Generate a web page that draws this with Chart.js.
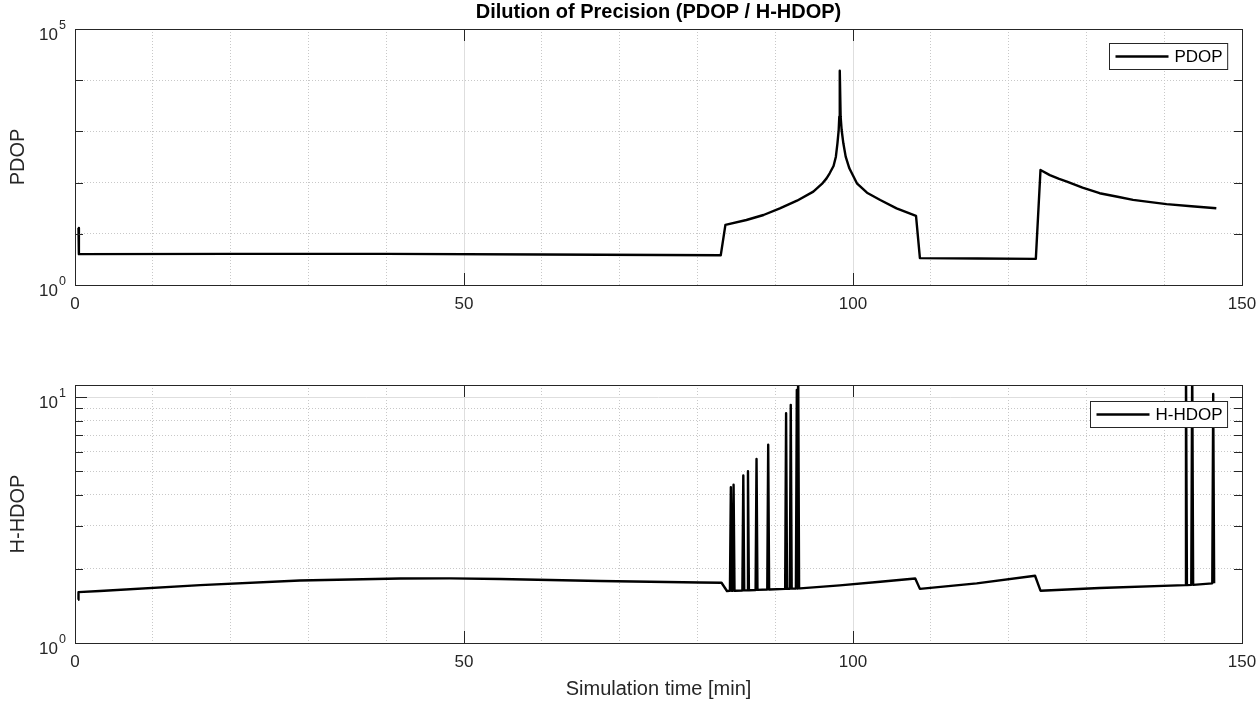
<!DOCTYPE html>
<html>
<head>
<meta charset="utf-8">
<script src="https://cdn.jsdelivr.net/npm/chart.js@4"></script>
<style>
html,body{margin:0;padding:0;background:#fff;}
#wrap{position:relative;width:1260px;height:701px;background:#fff;}
canvas{position:absolute;left:0;top:0;}
</style>
</head>
<body>
<div id="wrap">
<canvas id="top" width="1260" height="701"></canvas>
<canvas id="bottom" width="1260" height="701"></canvas>
</div>
<script>
// ---------------- data ----------------
const chartTitle = 'Dilution of Precision (PDOP / H-HDOP)';
const xAxisTitle = 'Simulation time [min]';
const xLabelTicks = [0, 50, 100, 150];
const xGridTicks = [0,10,20,30,40,50,60,70,80,90,100,110,120,130,140,150];

const pdopTicks = [1, 10, 100, 1000, 10000, 100000];
const pdopLabelTicks = [1, 100000];
const pdopLabelExp = ['0', '5'];

const hdopTicks = [1, 2, 3, 4, 5, 6, 7, 8, 9, 10];
const hdopLabelTicks = [1, 10];
const hdopLabelExp = ['0', '1'];

const pdopTime = [0.45, 0.5, 20, 40, 60, 83.0,
  83.6, 86.3, 88.5, 90.6, 92.8, 94.9, 96.0, 96.6, 97.0, 97.5, 97.8, 98.0, 98.16, 98.24, 98.3,
  98.41, 98.54, 98.76, 99.06, 99.53, 100.5, 101.8, 103.5, 105.6, 108.1,
  108.6, 116, 123.5,
  124.1, 125.3, 126.5, 127.5, 129.5, 131.7, 134.0, 136.0, 138.0, 140.3, 143.5, 146.7];
const pdopValue = [13, 4.0, 4.05, 4.05, 3.95, 3.8,
  14.9, 18.6, 23.3, 31.4, 44.3, 66.5, 94, 121, 152, 211, 321, 585, 1064, 1940, 15350,
  1940, 1064, 585, 321, 190, 97, 63.5, 45.7, 31.4, 22.3,
  3.35, 3.3, 3.24,
  176, 140, 118, 105, 80, 62, 53, 46, 42, 38, 34.5, 31.5];

const hdopTime = [0.4, 0.45, 3.2, 16.1, 28.9, 41.8, 48.2, 54.6, 67.5, 80.3, 83.1, 83.8,
  84.18, 84.3, 84.42, 84.53, 84.65, 84.77, 85.78, 85.9, 86.02, 86.38, 86.5, 86.62, 87.48, 87.6, 87.72,
  88.98, 89.1, 89.22, 91.28, 91.4, 91.52, 91.88, 92.0, 92.12, 92.66, 92.78, 92.86, 92.95, 93.07,
  93.2, 98.3, 103.5, 108.0, 108.6, 115.9, 123.4, 124.1, 131.7, 142.68, 142.8, 142.92,
  143.48, 143.6, 143.72, 146.18, 146.3, 146.42, 146.5];
const hdopValue = [1.50, 1.61, 1.627, 1.72, 1.795, 1.83, 1.832, 1.82, 1.786, 1.762, 1.758, 1.627,
  1.629, 4.3, 1.63, 1.631, 4.4, 1.631, 1.636, 4.8, 1.637, 1.639, 5.0, 1.639, 1.643, 5.6, 1.644,
  1.65, 6.4, 1.651, 1.66, 8.6, 1.661, 1.663, 9.3, 1.664, 1.667, 10.7, 1.667, 14, 1.668,
  1.668, 1.715, 1.775, 1.83, 1.66, 1.748, 1.877, 1.632, 1.674, 1.72, 14, 1.72,
  1.723, 14, 1.724, 1.748, 10.3, 1.75, 1.75];

// ---------------- styling ----------------
const FONT = '"Liberation Sans", Arial, Helvetica, sans-serif';
const AX = '#262626';
const MAJOR_GRID = '#dedede';
const MINOR_GRID = '#c8c8c8';

const matlabAxes = {
  id: 'matlabAxes',
  afterDatasetsDraw(chart, args, o) {
    const ctx = chart.ctx, a = chart.chartArea;
    const xs = chart.scales.x, ys = chart.scales.y;
    ctx.save();
    ctx.strokeStyle = AX;
    ctx.lineWidth = 1;
    ctx.beginPath();
    xs.ticks.forEach(t => {
      if (!xLabelTicks.includes(t.value)) return;
      const px = Math.round(xs.getPixelForValue(t.value)) + 0.5;
      ctx.moveTo(px, a.bottom); ctx.lineTo(px, a.bottom - 12);
      ctx.moveTo(px, a.top); ctx.lineTo(px, a.top + 12);
    });
    ys.ticks.forEach(t => {
      const len = o.yMajor.includes(t.value) ? 12 : 8;
      const py = Math.round(ys.getPixelForValue(t.value)) + 0.5;
      ctx.moveTo(a.left, py); ctx.lineTo(a.left + len, py);
      ctx.moveTo(a.right, py); ctx.lineTo(a.right - len, py);
    });
    ctx.stroke();
    ctx.strokeRect(Math.round(a.left) + 0.5, Math.round(a.top) + 0.5,
      Math.round(a.right - a.left), Math.round(a.bottom - a.top));

    // legend box (inside, north-east)
    ctx.font = '17px ' + FONT;
    const tw = ctx.measureText(o.legend).width;
    const bw = 6 + 53 + 6 + tw + 5, bh = 26;
    const bx = Math.round(a.right - 15 - bw) + 0.5, by = Math.round(a.top + o.legendTop) + 0.5;
    ctx.fillStyle = '#fff';
    ctx.fillRect(bx, by, bw, bh);
    ctx.strokeStyle = AX;
    ctx.strokeRect(bx, by, bw, bh);
    ctx.beginPath();
    ctx.strokeStyle = '#000';
    ctx.lineWidth = 2.4;
    ctx.moveTo(bx + 6, by + bh / 2); ctx.lineTo(bx + 59, by + bh / 2);
    ctx.stroke();
    ctx.fillStyle = '#000';
    ctx.textAlign = 'left';
    ctx.textBaseline = 'middle';
    ctx.fillText(o.legend, bx + 65, by + bh / 2 + 1);

    // y tick labels 10^n
    ctx.fillStyle = AX;
    o.yLabels.forEach((v, i) => {
      const py = ys.getPixelForValue(v);
      ctx.textBaseline = 'alphabetic';
      ctx.font = '17px ' + FONT;
      ctx.textAlign = 'right';
      ctx.fillText('10', 58, py + 10.5);
      ctx.font = '12.5px ' + FONT;
      ctx.textAlign = 'left';
      ctx.fillText(o.yExp[i], 59, py - 0.5);
    });
    ctx.restore();
  }
};

function xScale(height, withTitle) {
  return {
    type: 'linear', min: 0, max: 150,
    afterBuildTicks: s => { s.ticks = xGridTicks.map(v => ({ value: v })); },
    ticks: {
      autoSkip: false, maxRotation: 0, padding: 9, color: AX,
      font: { family: FONT, size: 17 },
      callback: v => xLabelTicks.includes(v) ? String(v) : ''
    },
    grid: {
      drawTicks: false, lineWidth: 1,
      color: c => (c.tick && xLabelTicks.includes(c.tick.value)) ? MAJOR_GRID : MINOR_GRID
    },
    border: {
      display: false,
      dash: c => (c.tick && xLabelTicks.includes(c.tick.value)) ? [] : [1, 2]
    },
    title: {
      display: withTitle, text: xAxisTitle, color: AX,
      font: { family: FONT, size: 20 }, padding: { top: 0, bottom: 0 }
    },
    afterFit: s => { s.height = height; s.paddingLeft = 0; s.paddingRight = 0; }
  };
}

function yScale(min, max, ticks, majors, title) {
  return {
    type: 'logarithmic', min: min, max: max,
    afterBuildTicks: s => { s.ticks = ticks.map(v => ({ value: v })); },
    ticks: { display: false },
    grid: {
      drawTicks: false, lineWidth: 1,
      color: c => (c.tick && majors.includes(c.tick.value)) ? MAJOR_GRID : MINOR_GRID
    },
    border: {
      display: false,
      dash: c => (c.tick && majors.includes(c.tick.value)) ? [] : [1, 2]
    },
    title: {
      display: true, text: title, color: AX,
      font: { family: FONT, size: 20 }, padding: { top: 6, bottom: 0 }
    },
    afterFit: s => { s.width = 75; s.paddingTop = 0; s.paddingBottom = 0; }
  };
}

function lineDataset(label, xs, ys) {
  return {
    label: label,
    data: xs.map((t, i) => ({ x: t, y: ys[i] })),
    borderColor: '#000', borderWidth: 2.4, pointRadius: 0,
    borderJoinStyle: 'round', borderCapStyle: 'butt', tension: 0, fill: false
  };
}

new Chart(document.getElementById('top'), {
  type: 'line',
  data: { datasets: [lineDataset('PDOP', pdopTime, pdopValue)] },
  options: {
    responsive: false, animation: false, devicePixelRatio: 1,
    layout: { padding: { left: 0, right: 18, top: 0, bottom: 386 } },
    plugins: {
      legend: { display: false }, tooltip: { enabled: false },
      title: {
        display: true, text: chartTitle, color: '#000', fullSize: false,
        font: { family: FONT, size: 20, weight: 'bold' }, padding: { top: 0, bottom: 5 }
      },
      matlabAxes: { yMajor: pdopLabelTicks, legend: 'PDOP', legendTop: 14, yLabels: pdopLabelTicks, yExp: pdopLabelExp }
    },
    scales: {
      x: xScale(30, false),
      y: yScale(1, 100000, pdopTicks, pdopLabelTicks, 'PDOP')
    }
  },
  plugins: [matlabAxes]
});

new Chart(document.getElementById('bottom'), {
  type: 'line',
  data: { datasets: [lineDataset('H-HDOP', hdopTime, hdopValue)] },
  options: {
    responsive: false, animation: false, devicePixelRatio: 1,
    layout: { padding: { left: 0, right: 18, top: 385, bottom: 0 } },
    plugins: {
      legend: { display: false }, tooltip: { enabled: false },
      matlabAxes: { yMajor: hdopLabelTicks, legend: 'H-HDOP', legendTop: 16, yLabels: hdopLabelTicks, yExp: hdopLabelExp }
    },
    scales: {
      x: xScale(58, true),
      y: yScale(1, 11.2, hdopTicks, hdopLabelTicks, 'H-HDOP')
    }
  },
  plugins: [matlabAxes]
});
</script>
</body>
</html>
